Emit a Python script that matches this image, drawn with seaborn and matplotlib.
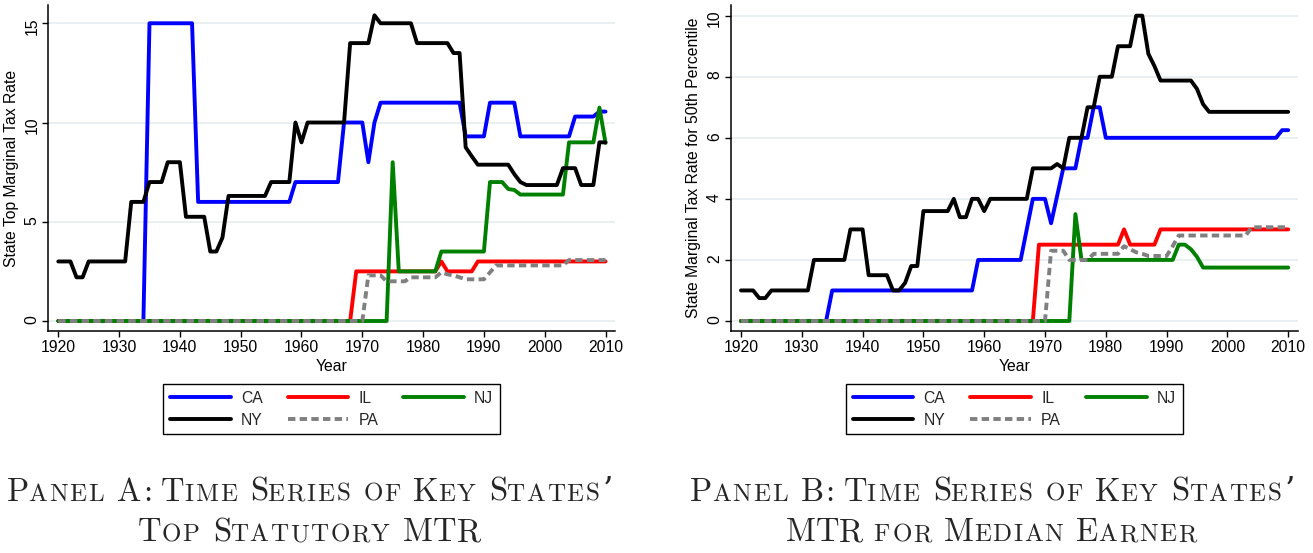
import matplotlib
matplotlib.use('Agg')
import matplotlib.pyplot as plt
from matplotlib.lines import Line2D
from matplotlib import font_manager as fm, ft2font
import seaborn as sns
import pandas as pd

# ---------------- data ----------------
years = list(range(1920, 2011))
states = ['CA', 'IL', 'NJ', 'NY', 'PA']

# Panel A: top statutory MTR
ca_top = [0, 0, 0, 0, 0, 0, 0, 0, 0, 0,
          0, 0, 0, 0, 0, 15, 15, 15, 15, 15,
          15, 15, 15, 6, 6, 6, 6, 6, 6, 6,
          6, 6, 6, 6, 6, 6, 6, 6, 6, 7,
          7, 7, 7, 7, 7, 7, 7, 10, 10, 10,
          10, 8, 10, 11, 11, 11, 11, 11, 11, 11,
          11, 11, 11, 11, 11, 11, 11, 9.3, 9.3, 9.3,
          9.3, 11, 11, 11, 11, 11, 9.3, 9.3, 9.3, 9.3,
          9.3, 9.3, 9.3, 9.3, 9.3, 10.3, 10.3, 10.3, 10.3, 10.55,
          10.55]
il_top = [0, 0, 0, 0, 0, 0, 0, 0, 0, 0,
          0, 0, 0, 0, 0, 0, 0, 0, 0, 0,
          0, 0, 0, 0, 0, 0, 0, 0, 0, 0,
          0, 0, 0, 0, 0, 0, 0, 0, 0, 0,
          0, 0, 0, 0, 0, 0, 0, 0, 0, 2.5,
          2.5, 2.5, 2.5, 2.5, 2.5, 2.5, 2.5, 2.5, 2.5, 2.5,
          2.5, 2.5, 2.5, 3, 2.5, 2.5, 2.5, 2.5, 2.5, 3,
          3, 3, 3, 3, 3, 3, 3, 3, 3, 3,
          3, 3, 3, 3, 3, 3, 3, 3, 3, 3,
          3]
nj_top = [0, 0, 0, 0, 0, 0, 0, 0, 0, 0,
          0, 0, 0, 0, 0, 0, 0, 0, 0, 0,
          0, 0, 0, 0, 0, 0, 0, 0, 0, 0,
          0, 0, 0, 0, 0, 0, 0, 0, 0, 0,
          0, 0, 0, 0, 0, 0, 0, 0, 0, 0,
          0, 0, 0, 0, 0, 8, 2.5, 2.5, 2.5, 2.5,
          2.5, 2.5, 2.5, 3.5, 3.5, 3.5, 3.5, 3.5, 3.5, 3.5,
          3.5, 7, 7, 7, 6.65, 6.6, 6.37, 6.37, 6.37, 6.37,
          6.37, 6.37, 6.37, 6.37, 9, 9, 9, 9, 9, 10.75,
          8.97]
ny_top = [3, 3, 3, 2.2, 2.2, 3, 3, 3, 3, 3,
          3, 3, 6, 6, 6, 7, 7, 7, 8, 8,
          8, 5.25, 5.25, 5.25, 5.25, 3.5, 3.5, 4.2, 6.3, 6.3,
          6.3, 6.3, 6.3, 6.3, 6.3, 7, 7, 7, 7, 10,
          9, 10, 10, 10, 10, 10, 10, 10, 14, 14,
          14, 14, 15.4, 15, 15, 15, 15, 15, 15, 14,
          14, 14, 14, 14, 14, 13.5, 13.5, 8.75, 8.3, 7.875,
          7.875, 7.875, 7.875, 7.875, 7.875, 7.4, 7.0, 6.85, 6.85, 6.85,
          6.85, 6.85, 6.85, 7.7, 7.7, 7.7, 6.85, 6.85, 6.85, 9,
          9]
pa_top = [0, 0, 0, 0, 0, 0, 0, 0, 0, 0,
          0, 0, 0, 0, 0, 0, 0, 0, 0, 0,
          0, 0, 0, 0, 0, 0, 0, 0, 0, 0,
          0, 0, 0, 0, 0, 0, 0, 0, 0, 0,
          0, 0, 0, 0, 0, 0, 0, 0, 0, 0,
          0, 2.3, 2.3, 2.3, 2.0, 2.0, 2.0, 2.0, 2.2, 2.2,
          2.2, 2.2, 2.2, 2.45, 2.35, 2.3, 2.2, 2.1, 2.1, 2.1,
          2.1, 2.45, 2.8, 2.8, 2.8, 2.8, 2.8, 2.8, 2.8, 2.8,
          2.8, 2.8, 2.8, 2.8, 3.07, 3.07, 3.07, 3.07, 3.07, 3.07,
          3.07]

# Panel B: MTR for median earner
ca_med = [0, 0, 0, 0, 0, 0, 0, 0, 0, 0,
          0, 0, 0, 0, 0, 1, 1, 1, 1, 1,
          1, 1, 1, 1, 1, 1, 1, 1, 1, 1,
          1, 1, 1, 1, 1, 1, 1, 1, 1, 2,
          2, 2, 2, 2, 2, 2, 2, 3, 4, 4,
          4, 3.2, 4.1, 5, 5, 5, 6, 6, 7, 7,
          6, 6, 6, 6, 6, 6, 6, 6, 6, 6,
          6, 6, 6, 6, 6, 6, 6, 6, 6, 6,
          6, 6, 6, 6, 6, 6, 6, 6, 6, 6.25,
          6.25]
il_med = [0, 0, 0, 0, 0, 0, 0, 0, 0, 0,
          0, 0, 0, 0, 0, 0, 0, 0, 0, 0,
          0, 0, 0, 0, 0, 0, 0, 0, 0, 0,
          0, 0, 0, 0, 0, 0, 0, 0, 0, 0,
          0, 0, 0, 0, 0, 0, 0, 0, 0, 2.5,
          2.5, 2.5, 2.5, 2.5, 2.5, 2.5, 2.5, 2.5, 2.5, 2.5,
          2.5, 2.5, 2.5, 3, 2.5, 2.5, 2.5, 2.5, 2.5, 3,
          3, 3, 3, 3, 3, 3, 3, 3, 3, 3,
          3, 3, 3, 3, 3, 3, 3, 3, 3, 3,
          3]
nj_med = [0, 0, 0, 0, 0, 0, 0, 0, 0, 0,
          0, 0, 0, 0, 0, 0, 0, 0, 0, 0,
          0, 0, 0, 0, 0, 0, 0, 0, 0, 0,
          0, 0, 0, 0, 0, 0, 0, 0, 0, 0,
          0, 0, 0, 0, 0, 0, 0, 0, 0, 0,
          0, 0, 0, 0, 0, 3.5, 2, 2, 2, 2,
          2, 2, 2, 2, 2, 2, 2, 2, 2, 2,
          2, 2, 2.5, 2.5, 2.35, 2.1, 1.75, 1.75, 1.75, 1.75,
          1.75, 1.75, 1.75, 1.75, 1.75, 1.75, 1.75, 1.75, 1.75, 1.75,
          1.75]
ny_med = [1, 1, 1, 0.75, 0.75, 1, 1, 1, 1, 1,
          1, 1, 2, 2, 2, 2, 2, 2, 3, 3,
          3, 1.5, 1.5, 1.5, 1.5, 1, 1, 1.25, 1.8, 1.8,
          3.6, 3.6, 3.6, 3.6, 3.6, 4, 3.4, 3.4, 4, 4,
          3.6, 4, 4, 4, 4, 4, 4, 4, 5, 5,
          5, 5, 5.14, 5, 6, 6, 6, 7, 7, 8,
          8, 8, 9, 9, 9, 10, 10, 8.75, 8.35, 7.875,
          7.875, 7.875, 7.875, 7.875, 7.875, 7.6, 7.1, 6.85, 6.85, 6.85,
          6.85, 6.85, 6.85, 6.85, 6.85, 6.85, 6.85, 6.85, 6.85, 6.85,
          6.85]
pa_med = [0, 0, 0, 0, 0, 0, 0, 0, 0, 0,
          0, 0, 0, 0, 0, 0, 0, 0, 0, 0,
          0, 0, 0, 0, 0, 0, 0, 0, 0, 0,
          0, 0, 0, 0, 0, 0, 0, 0, 0, 0,
          0, 0, 0, 0, 0, 0, 0, 0, 0, 0,
          0, 2.3, 2.3, 2.3, 2.0, 2.0, 2.0, 2.0, 2.2, 2.2,
          2.2, 2.2, 2.2, 2.45, 2.35, 2.25, 2.2, 2.13, 2.13, 2.13,
          2.13, 2.45, 2.8, 2.8, 2.8, 2.8, 2.8, 2.8, 2.8, 2.8,
          2.8, 2.8, 2.8, 2.8, 3.07, 3.07, 3.07, 3.07, 3.07, 3.07,
          3.07]

xticks = [1920, 1930, 1940, 1950, 1960, 1970, 1980, 1990, 2000, 2010]
yticks_a = [0, 5, 10, 15]
yticks_b = [0, 2, 4, 6, 8, 10]
ylabel_a = 'State Top Marginal Tax Rate'
ylabel_b = 'State Marginal Tax Rate for 50th Percentile'
caption_a = ['Panel A: Time Series of Key States\u2019', 'Top Statutory MTR']
caption_b = ['Panel B: Time Series of Key States\u2019', 'MTR for Median Earner']

colors = {'CA': '#0000ff', 'IL': '#ff0000', 'NJ': '#008000', 'NY': '#000000', 'PA': '#808080'}
dashes = {'CA': '', 'IL': '', 'NJ': '', 'NY': '', 'PA': (1.9, 1.1)}

# ---------------- style ----------------
sns.set_style('ticks')
plt.rcParams['font.family'] = ['Liberation Sans', 'DejaVu Sans']
FS = 11.3
LW = 2.8

W, H = 1313, 553
fig = plt.figure(figsize=(W / 100, H / 100), dpi=100)
ax_top, ax_bot = 5, 331
axA = fig.add_axes([48.3 / W, 1 - ax_bot / H, (615 - 48.3) / W, (ax_bot - ax_top) / H])
axB = fig.add_axes([731 / W, 1 - ax_bot / H, (1297.7 - 731) / W, (ax_bot - ax_top) / H])


def panel(ax, series, ylim, yticks, ylabel):
    df = pd.DataFrame({
        'Year': years * len(states),
        'State': [s for s in states for _ in years],
        'Rate': [v for s in states for v in series[s]],
    })
    sns.lineplot(data=df, x='Year', y='Rate', hue='State', style='State',
                 hue_order=states, style_order=states, palette=colors,
                 dashes=dashes, linewidth=LW, estimator=None, legend=False, ax=ax)
    ax.set_xlim(1918.36, 2011.56)
    ax.set_ylim(*ylim)
    ax.set_xticks(xticks)
    ax.set_yticks(yticks)
    ax.yaxis.grid(True, color='#e6eef0', linewidth=1.2)
    ax.set_axisbelow(True)
    sns.despine(ax=ax)
    for sp in ('left', 'bottom'):
        ax.spines[sp].set_linewidth(1.1)
        ax.spines[sp].set_color('black')
    ax.tick_params(direction='out', length=4.5, width=1.0, color='black',
                   labelsize=FS, pad=2, labelcolor='black')
    ax.tick_params(axis='y', labelrotation=90)
    ax.set_xlabel('Year', fontsize=FS, labelpad=3, color='black')
    ax.set_ylabel(ylabel, fontsize=FS, labelpad=4, color='black')
    handles = []
    for s in states:
        if dashes[s]:
            h = Line2D([], [], color=colors[s], linewidth=LW, linestyle=(0, dashes[s]))
        else:
            h = Line2D([], [], color=colors[s], linewidth=LW)
        handles.append(h)
    order = [0, 3, 1, 4, 2]
    leg = ax.legend([handles[i] for i in order], [states[i] for i in order],
                    loc='upper center', bbox_to_anchor=(0.5, -0.1626), ncol=3,
                    frameon=True, fancybox=False, edgecolor='black', framealpha=1,
                    handlelength=3.87, handletextpad=0.64, columnspacing=1.6,
                    borderpad=0.42, labelspacing=0.45, fontsize=FS, borderaxespad=0)
    leg.get_frame().set_linewidth(1.0)


panel(axA, {'CA': ca_top, 'IL': il_top, 'NJ': nj_top, 'NY': ny_top, 'PA': pa_top},
      (-0.504, 15.92), yticks_a, ylabel_a)
panel(axB, {'CA': ca_med, 'IL': il_med, 'NJ': nj_med, 'NY': ny_med, 'PA': pa_med},
      (-0.328, 10.35), yticks_b, ylabel_b)

# ---------------- captions in small caps ----------------
BIG, SMALL = 23.5, 18.0
TRACK = 1.75  # extra px after each small-cap letter
cm_path = fm.findfont(fm.FontProperties(family='cmr10'))
dv_path = fm.findfont(fm.FontProperties(family='DejaVu Serif'))
NOH = ft2font.LoadFlags.NO_HINTING if hasattr(ft2font, 'LoadFlags') else ft2font.LOAD_NO_HINTING
_fonts = {}


def glyph_metrics(ch, size):
    for p, fam in ((cm_path, 'cmr10'), (dv_path, 'DejaVu Serif')):
        if p not in _fonts:
            _fonts[p] = ft2font.FT2Font(p, hinting_factor=1)
        f = _fonts[p]
        if f.get_char_index(ord(ch)) == 0:
            continue
        f.set_size(size, 100)
        g = f.load_char(ord(ch), flags=NOH)
        return fam, g.linearHoriAdvance / 65536, g.horiBearingX / 64
    return 'DejaVu Serif', 0.3 * size * 100 / 72, 0


def smallcaps_line(text, cx, baseline):
    items = []
    pen = 0.0
    space = 0.333 * BIG * 100 / 72
    for ch in text:
        if ch == ' ':
            pen += space
            continue
        if ch.islower():
            c, s, tr = ch.upper(), SMALL, TRACK
        else:
            c, s, tr = ch, BIG, 0.0
        fam, adv, lsb = glyph_metrics(c, s)
        items.append((c, s, fam, pen + lsb))
        pen += adv + tr
    x0 = cx - pen / 2
    for c, s, fam, off in items:
        fig.text((x0 + off) / W, 1 - baseline / H, c, fontsize=s,
                 family=[fam, 'DejaVu Serif'], va='baseline', ha='left')


smallcaps_line(caption_a[0], 308, 500.7)
smallcaps_line(caption_a[1], 308, 541)
smallcaps_line(caption_b[0], 991, 500.7)
smallcaps_line(caption_b[1], 991, 541)

fig.savefig('out.png', dpi=100)
